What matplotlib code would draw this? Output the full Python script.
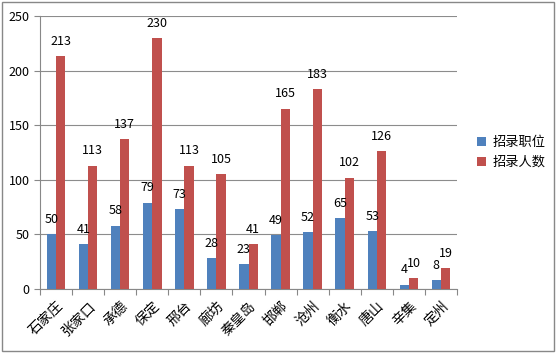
import matplotlib.pyplot as plt
import numpy as np
from matplotlib.patches import Rectangle

plt.rcParams['font.family'] = ['Noto Sans CJK SC', 'DejaVu Sans']

cities = ['石家庄', '张家口', '承德', '保定', '邢台', '廊坊', '秦皇岛',
          '邯郸', '沧州', '衡水', '唐山', '辛集', '定州']
positions = [50, 41, 58, 79, 73, 28, 23, 49, 52, 65, 53, 4, 8]
people = [213, 113, 137, 230, 113, 105, 41, 165, 183, 102, 126, 10, 19]

fig = plt.figure(figsize=(5.57, 3.54), dpi=100)
ax = fig.add_axes([0.0718, 0.1836, 0.7487, 0.7712])

x = np.arange(len(cities))
w = 0.29
b1 = ax.bar(x - w / 2, positions, w, color='#4F81BD', label='招录职位', zorder=3)
b2 = ax.bar(x + w / 2, people, w, color='#C0504D', label='招录人数', zorder=3)

for bars, vals in ((b1, positions), (b2, people)):
    for bar, v in zip(bars, vals):
        ax.annotate(str(v), (bar.get_x() + bar.get_width() / 2, v),
                    xytext=(0, 6), textcoords='offset points',
                    ha='center', va='bottom', fontsize=9)

ax.set_xlim(-0.5, len(cities) - 0.5)
ax.set_ylim(0, 250)
ax.set_yticks(range(0, 251, 50))
ax.yaxis.grid(True, color='#8c8c8c', linewidth=0.8, zorder=0)

ax.set_xticks(np.arange(-0.5, len(cities)), labels=[''] * (len(cities) + 1))
ax.set_xticks(x, minor=True)
ax.set_xticklabels(cities, minor=True, rotation=45, ha='right',
                   rotation_mode='anchor', fontsize=10)
ax.tick_params(axis='x', which='minor', length=0, pad=7)
ax.tick_params(axis='x', which='major', length=4, color='#888888')
ax.tick_params(axis='y', length=4, color='#888888', labelsize=9)

for s in ('top', 'right'):
    ax.spines[s].set_visible(False)
for s in ('left', 'bottom'):
    ax.spines[s].set_color('#888888')

ax.legend(loc='center left', bbox_to_anchor=(1.02, 0.5), frameon=False,
          fontsize=9.5, handlelength=0.7, handleheight=0.7, handletextpad=0.5)

fig.patches.append(Rectangle((0.004, 0.008), 0.99, 0.985, transform=fig.transFigure,
                             fill=False, edgecolor='#888888', linewidth=1))

fig.savefig('out.png', dpi=100)
